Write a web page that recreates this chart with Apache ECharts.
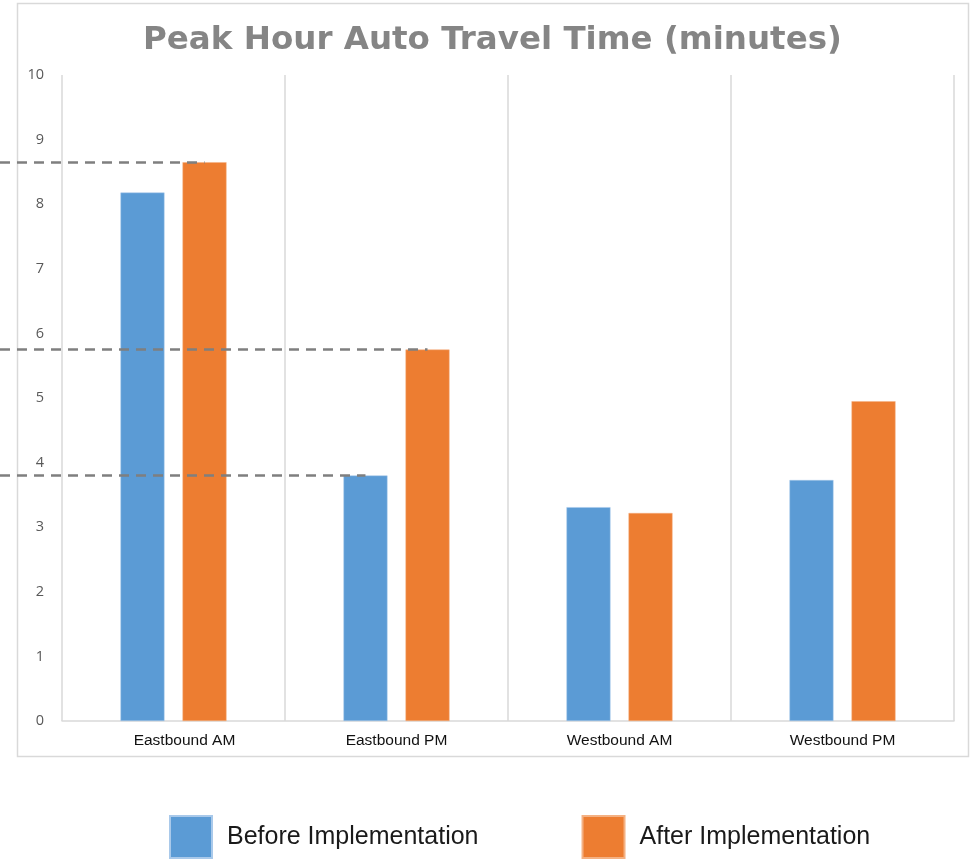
<!DOCTYPE html>
<html>
<head>
<meta charset="utf-8">
<script src="https://cdn.jsdelivr.net/npm/echarts@6/dist/echarts.min.js"></script>
<style>
html,body{margin:0;padding:0;background:#fff;}
#chart{width:974px;height:865px;}
</style>
</head>
<body>
<div id="chart"></div>
<script>
const categories = ['Eastbound AM', 'Eastbound PM', 'Westbound AM', 'Westbound PM'];
const beforeValues = [8.18, 3.80, 3.31, 3.73];
const afterValues = [8.65, 5.75, 3.22, 4.95];
const seriesNames = ['Before Implementation', 'After Implementation'];
const yTicks = {min: 0, max: 10, interval: 1};
const titleText = 'Peak Hour Auto Travel Time (minutes)';

const dashStyle = {color: '#7f7f7f', width: 2.5, type: [10, 7]};

const chart = echarts.init(document.getElementById('chart'), null, {renderer: 'canvas'});
chart.setOption({
  backgroundColor: '#ffffff',
  animation: false,
  title: {
    text: titleText,
    left: 138,
    top: 19,
    textStyle: {fontFamily: 'DejaVu Sans', fontSize: 32.5, fontWeight: 'bold', color: '#858585'}
  },
  graphic: [{
    type: 'rect',
    z: -1,
    shape: {x: 17.5, y: 3.5, width: 951, height: 753},
    style: {fill: 'none', stroke: '#d9d9d9', lineWidth: 1.5}
  }],
  legend: {
    left: 164,
    top: 810,
    itemWidth: 42,
    itemHeight: 42,
    itemGap: 103,
    icon: 'rect',
    data: seriesNames,
    textStyle: {fontFamily: 'Liberation Sans', fontSize: 25, color: '#1a1a1a', padding: [0, 0, 0, 10]}
  },
  grid: {left: 62, right: 20, top: 75, bottom: 144, containLabel: false},
  xAxis: {
    type: 'category',
    data: categories,
    boundaryGap: true,
    axisLine: {show: true, lineStyle: {color: '#d9d9d9', width: 1.5}},
    axisTick: {show: false},
    splitLine: {show: true, lineStyle: {color: '#d9d9d9', width: 1.5}},
    axisLabel: {
      fontFamily: 'Liberation Sans', fontSize: 15.5, color: '#111', margin: 12,
      formatter: function (v, i) { return i === 0 ? '{s|' + v + '}' : v; },
      rich: {s: {fontFamily: 'Liberation Sans', fontSize: 15.5, color: '#111', padding: [0, 0, 0, 22]}}
    }
  },
  yAxis: {
    type: 'value',
    min: yTicks.min,
    max: yTicks.max,
    interval: yTicks.interval,
    axisLine: {show: false},
    axisTick: {show: false},
    splitLine: {show: false},
    axisLabel: {fontFamily: 'Open Sans', fontSize: 14.5, color: '#595959', margin: 18}
  },
  series: [{
    name: seriesNames[0],
    type: 'bar',
    data: beforeValues,
    barWidth: 44,
    barGap: '41%',
    itemStyle: {color: '#5b9bd5', borderColor: '#a9c9ea', borderWidth: 0.5},
    markLine: {
      silent: true,
      symbol: ['none', 'none'],
      label: {show: false},
      lineStyle: dashStyle,
      data: [
        [{x: 0, yAxis: beforeValues[1]}, {coord: [categories[1], beforeValues[1]]}]
      ]
    }
  }, {
    name: seriesNames[1],
    type: 'bar',
    data: afterValues,
    barWidth: 44,
    itemStyle: {color: '#ed7d31', borderColor: '#f4b183', borderWidth: 0.5},
    markLine: {
      silent: true,
      symbol: ['none', 'none'],
      label: {show: false},
      lineStyle: dashStyle,
      data: [
        [{x: 0, yAxis: afterValues[0]}, {coord: [categories[0], afterValues[0]]}],
        [{x: 0, yAxis: afterValues[1]}, {coord: [categories[1], afterValues[1]]}]
      ]
    }
  }]
});
</script>
</body>
</html>
